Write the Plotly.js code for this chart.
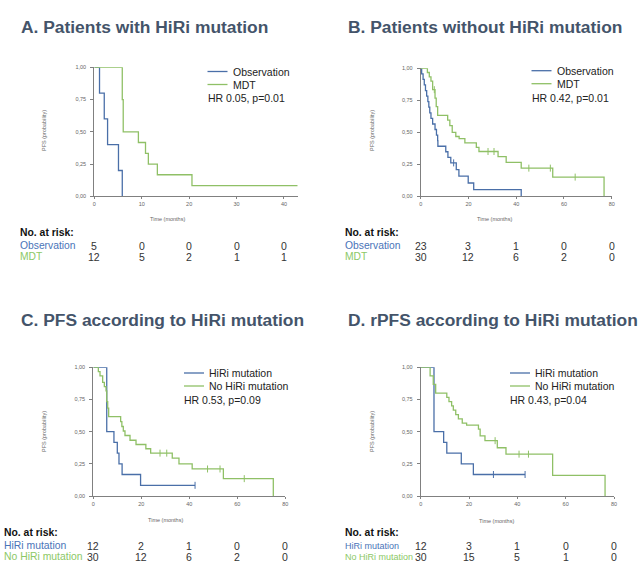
<!DOCTYPE html>
<html><head><meta charset="utf-8">
<script src="https://cdn.plot.ly/plotly-3.0.1.min.js"></script>
<style>html,body{margin:0;padding:0;background:#fff}#chart{width:641px;height:580px}</style>
</head><body><div id="chart"></div>
<script>
// ---------- DATA ----------
const ticksA = [0, 10, 20, 30, 40];
const ticks80 = [0, 20, 40, 60, 80];
const yTickVals = [0, 0.25, 0.5, 0.75, 1];
const yTickText = ['0,00', '0,25', '0,50', '0,75', '1,00'];

// Panel A: patients with HiRi mutation
const timeA_obs = [0, 1.1, 2.1, 2.8, 5.1, 5.9];
const survA_obs = [1, 0.8, 0.6, 0.4, 0.2, 0];
const timeA_mdt = [0, 5.9, 6.1, 9.3, 10.8, 11.4, 13.3, 20.6, 42.9];
const survA_mdt = [1, 0.75, 0.5, 0.417, 0.333, 0.25, 0.167, 0.083, 0.083];
const riskA_obs = [5, 0, 0, 0, 0];
const riskA_mdt = [12, 5, 2, 1, 1];

// Panel B: patients without HiRi mutation
const timeB_obs = [0, 0.4, 1.0, 1.5, 2.0, 2.5, 3.0, 3.4, 3.8, 4.3, 5.0, 6.0, 6.6, 7.1, 7.2, 10.5, 11.4, 12.6, 14.9, 16.0, 19.9, 22.2, 42.1];
const survB_obs = [1, 0.957, 0.913, 0.870, 0.826, 0.783, 0.739, 0.696, 0.652, 0.609, 0.565, 0.522, 0.478, 0.435, 0.391, 0.348, 0.304, 0.261, 0.209, 0.157, 0.104, 0.052, 0];
const censB_obs_t = [13.8];
const censB_obs_s = [0.261];
const timeB_mdt = [0, 2.8, 3.6, 4.3, 5.0, 6.0, 6.5, 7.1, 11.3, 12.2, 13.2, 14.7, 16.1, 18.5, 23.3, 24.4, 32.4, 35.8, 42.1, 55.3, 76.8];
const survB_mdt = [1, 0.967, 0.933, 0.90, 0.833, 0.767, 0.70, 0.633, 0.595, 0.552, 0.50, 0.467, 0.45, 0.417, 0.383, 0.35, 0.31, 0.265, 0.22, 0.15, 0];
const censB_mdt_t = [5.7, 28.2, 30.7, 45.3, 54.3, 64.7];
const censB_mdt_s = [0.833, 0.35, 0.35, 0.22, 0.22, 0.15];
const riskB_obs = [23, 3, 1, 0, 0];
const riskB_mdt = [30, 12, 6, 2, 0];

// Panel C: PFS according to HiRi mutation
const timeC_hiri = [0, 5.6, 8.6, 10.0, 10.7, 12.0, 19.7, 42.4];
const survC_hiri = [1, 0.5, 0.417, 0.333, 0.25, 0.167, 0.083, 0.083];
const censC_hiri_t = [42.4];
const censC_hiri_s = [0.083];
const timeC_no = [0, 2.1, 2.8, 3.9, 4.6, 5.3, 5.6, 6.0, 6.4, 11.4, 11.9, 12.5, 13.2, 15.3, 17.8, 21.9, 23.9, 32.9, 35.7, 41.2, 54.2, 75.0];
const survC_no = [1, 0.967, 0.933, 0.883, 0.85, 0.817, 0.733, 0.683, 0.617, 0.578, 0.54, 0.505, 0.47, 0.433, 0.40, 0.367, 0.333, 0.295, 0.25, 0.21, 0.135, 0];
const censC_no_t = [27.8, 30.6, 47.6, 52.8, 62.9];
const censC_no_s = [0.333, 0.333, 0.21, 0.21, 0.135];
const riskC_hiri = [12, 2, 1, 0, 0];
const riskC_no = [30, 12, 6, 2, 0];

// Panel D: rPFS according to HiRi mutation
const timeD_hiri = [0, 5.5, 9.5, 10.8, 16.8, 21.8, 43.2];
const survD_hiri = [1, 0.5, 0.417, 0.333, 0.25, 0.167, 0.167];
const censD_hiri_t = [30.1, 43.2];
const censD_hiri_s = [0.167, 0.167];
const timeD_no = [0, 3.9, 5.2, 6.2, 10.8, 11.7, 12.8, 13.5, 14.5, 15.6, 17.2, 19.0, 23.9, 24.6, 26.6, 31.7, 35.3, 54.6, 76.3];
const survD_no = [1, 0.933, 0.867, 0.80, 0.767, 0.733, 0.70, 0.667, 0.633, 0.60, 0.567, 0.55, 0.52, 0.467, 0.43, 0.375, 0.325, 0.16, 0];
const censD_no_t = [30.8, 40.7, 44.6];
const censD_no_s = [0.43, 0.325, 0.325];
const riskD_hiri = [12, 3, 1, 0, 0];
const riskD_no = [30, 15, 5, 1, 0];

// ---------- STYLE ----------
const W = 641, H = 580;
const BLUE = '#4a6fa8', GREEN = '#8fc066';
const BLUE_T = '#4a74b8', GREEN_T = '#8cc866';
const TITLE_C = '#44546a';
const FONT = 'Liberation Sans, Arial, sans-serif';
const px = v => v / W;
const py = v => 1 - v / H;

function km(t, s, color, ax) {
  return {x: t, y: s, mode: 'lines', line: {shape: 'hv', color: color, width: 1.3},
    xaxis: 'x' + ax, yaxis: 'y' + ax, cliponaxis: false, hoverinfo: 'skip', showlegend: false};
}
function cens(t, s, color, ax) {
  return {x: t, y: s, mode: 'markers', marker: {symbol: 'line-ns-open', size: 5, color: color, line: {width: 1, color: color}},
    xaxis: 'x' + ax, yaxis: 'y' + ax, cliponaxis: false, hoverinfo: 'skip', showlegend: false};
}

const traces = [
  km(timeA_obs, survA_obs, BLUE, ''), km(timeA_mdt, survA_mdt, GREEN, ''),
  km(timeB_obs, survB_obs, BLUE, '2'), cens(censB_obs_t, censB_obs_s, BLUE, '2'),
  km(timeB_mdt, survB_mdt, GREEN, '2'), cens(censB_mdt_t, censB_mdt_s, GREEN, '2'),
  km(timeC_hiri, survC_hiri, BLUE, '3'), cens(censC_hiri_t, censC_hiri_s, BLUE, '3'),
  km(timeC_no, survC_no, GREEN, '3'), cens(censC_no_t, censC_no_s, GREEN, '3'),
  km(timeD_hiri, survD_hiri, BLUE, '4'), cens(censD_hiri_t, censD_hiri_s, BLUE, '4'),
  km(timeD_no, survD_no, GREEN, '4'), cens(censD_no_t, censD_no_s, GREEN, '4')
];

function xAxis(x0, x1, range, ticks, anchor) {
  return {domain: [px(x0), px(x1)], range: range, tickvals: ticks, ticktext: ticks.map(String),
    showgrid: false, zeroline: false, showline: true, linecolor: '#808080', linewidth: 1,
    ticks: 'outside', ticklen: 2, tickcolor: '#808080', ticklabelstandoff: 0,
    tickfont: {size: 5.5, color: '#666', family: FONT}, anchor: anchor, fixedrange: true};
}
function yAxis(yb, yt, anchor) {
  return {domain: [py(yb), py(yt)], range: [0, 1], tickvals: yTickVals, ticktext: yTickText,
    showgrid: false, zeroline: false, showline: true, linecolor: '#808080', linewidth: 1,
    ticks: 'outside', ticklen: 3, tickcolor: '#808080', ticklabelstandoff: 3,
    tickfont: {size: 5.5, color: '#666', family: FONT}, anchor: anchor, fixedrange: true};
}

const ann = [];
const shapes = [];
function text(x, y, s, opts) {
  ann.push(Object.assign({xref: 'paper', yref: 'paper', x: px(x), y: py(y), text: s, showarrow: false,
    xanchor: 'left', yanchor: 'middle', font: {family: FONT, size: 10.5, color: '#333'}}, opts || {}));
}
function title(x, y, s) {
  text(x, y, '<b>' + s + '</b>', {font: {family: FONT, size: 17.4, color: TITLE_C}});
}
function legend(x, y, name1, name2, hr) {
  shapes.push({type: 'line', xref: 'paper', yref: 'paper', x0: px(x), x1: px(x + 20), y0: py(y), y1: py(y), line: {color: BLUE, width: 1.3}});
  shapes.push({type: 'line', xref: 'paper', yref: 'paper', x0: px(x), x1: px(x + 20), y0: py(y + 13), y1: py(y + 13), line: {color: GREEN, width: 1.3}});
  text(x + 23, y, name1, {font: {family: FONT, size: 10.5, color: '#222'}});
  text(x + 23, y + 13, name2, {font: {family: FONT, size: 10.5, color: '#222'}});
  text(x - 2, y + 27, hr, {font: {family: FONT, size: 10.5, color: '#222'}});
}
function riskTable(x, y, xref, ticks, name1, r1, name2, r2, lblSize) {
  text(x, y, '<b>No. at risk:</b>', {font: {family: FONT, size: 10.4, color: '#111'}});
  text(x, y + 13.5, name1, {font: {family: FONT, size: lblSize, color: BLUE_T}});
  text(x, y + 24.5, name2, {font: {family: FONT, size: lblSize, color: GREEN_T}});
  ticks.forEach((t, i) => {
    ann.push({xref: xref, yref: 'paper', x: t, y: py(y + 13.5), text: String(r1[i]), showarrow: false,
      xanchor: 'center', yanchor: 'middle', font: {family: FONT, size: 10.5, color: '#333'}});
    ann.push({xref: xref, yref: 'paper', x: t, y: py(y + 24.5), text: String(r2[i]), showarrow: false,
      xanchor: 'center', yanchor: 'middle', font: {family: FONT, size: 10.5, color: '#333'}});
  });
}
function small(x, y, s, angle) {
  text(x, y, s, {xanchor: 'center', textangle: angle || 0, font: {family: FONT, size: 5.5, color: '#666'}});
}

title(19, 27, 'A. Patients with HiRi mutation');
title(346, 27, 'B. Patients without HiRi mutation');
title(19, 320, 'C. PFS according to HiRi mutation');
title(346, 320, 'D. rPFS according to HiRi mutation');

legend(207.5, 71.5, 'Observation', 'MDT', 'HR 0.05, p=0.01');
legend(531.5, 70.7, 'Observation', 'MDT', 'HR 0.42, p=0.01');
legend(184, 373, 'HiRi mutation', 'No HiRi mutation', 'HR 0.53, p=0.09');
legend(510, 373, 'HiRi mutation', 'No HiRi mutation', 'HR 0.43, p=0.04');

small(44, 131, 'PFS (probability)', -90);
small(372, 131, 'PFS (probability)', -90);
small(44, 432, 'PFS (probability)', -90);
small(372, 432, 'PFS (probability)', -90);
small(167, 219, 'Time (months)');
small(495, 219, 'Time (months)');
small(165, 520, 'Time (months)');
small(496, 521, 'Time (months)');

riskTable(18, 232, 'x', ticksA, 'Observation', riskA_obs, 'MDT', riskA_mdt, 10.3);
riskTable(343, 232, 'x2', ticks80, 'Observation', riskB_obs, 'MDT', riskB_mdt, 10.3);
riskTable(2, 532, 'x3', ticks80, 'HiRi mutation', riskC_hiri, 'No HiRi mutation', riskC_no, 10.4);
riskTable(343, 532, 'x4', ticks80, 'HiRi mutation', riskD_hiri, 'No HiRi mutation', riskD_no, 9.0);

const layout = {
  width: W, height: H, margin: {l: 0, r: 0, t: 0, b: 0},
  paper_bgcolor: '#fff', plot_bgcolor: 'rgba(0,0,0,0)', showlegend: false,
  font: {family: FONT},
  xaxis: xAxis(94.3, 297.7, [0, 42.9], ticksA, 'y'),
  yaxis: yAxis(196.3, 67.3, 'x'),
  xaxis2: xAxis(420.7, 611.7, [0, 80], ticks80, 'y2'),
  yaxis2: yAxis(196.3, 68.3, 'x2'),
  xaxis3: xAxis(93.3, 285.3, [0, 80], ticks80, 'y3'),
  yaxis3: yAxis(496, 367.3, 'x3'),
  xaxis4: xAxis(420.7, 614, [0, 80], ticks80, 'y4'),
  yaxis4: yAxis(496, 367.3, 'x4'),
  annotations: ann, shapes: shapes
};
Plotly.newPlot('chart', traces, layout, {staticPlot: true, displayModeBar: false});
</script>
</body></html>
